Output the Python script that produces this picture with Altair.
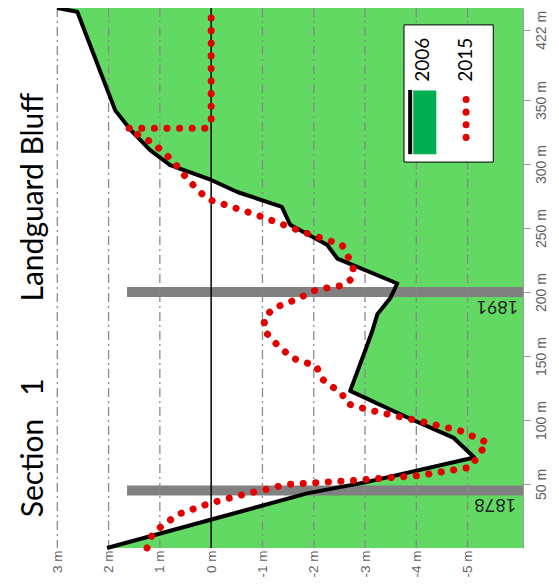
import altair as alt
import pandas as pd

# ---- data (distance along section in m, level in m) ----
dist_2006 = [0, 42.7, 51.3, 70.7, 86.3, 101.0, 122.8, 153.9, 169.4, 182.6, 195.1, 206.7,
             226.2, 237.0, 252.6, 266.6, 278.2, 287.6, 299.2, 310.9, 327.2, 342.0, 419.0, 422.0]
elev_2006 = [2.03, -1.87, -3.00, -5.13, -4.72, -3.88, -2.71, -3.00, -3.14, -3.24, -3.49, -3.63,
             -2.46, -2.26, -1.54, -1.38, -0.51, 0.0, 0.80, 1.19, 1.58, 1.87, 2.61, 3.00]

dist_2015 = [0, 10.1, 16.3, 26.4, 35.0, 41.2, 49.7, 52.8, 56.7, 63.0,
             82.4, 91.7, 98.7, 107.3, 112.7, 120.5, 132.1, 142.2, 148.4, 161.7,
             169.4, 179.5, 187.3, 194.3, 202.1, 205.2, 210.6, 219.9, 237.0, 246.4,
             260.4, 272.8, 287.6, 303.1, 316.3, 326.4, 328.0, 328.0, 331.9, 422.0]
elev_2015 = [1.25, 1.15, 0.99, 0.64, 0.02, -0.57, -1.48, -2.77, -4.07, -5.05,
             -5.38, -4.85, -4.11, -3.14, -2.65, -2.55, -2.16, -2.05, -1.58, -1.21,
             -1.05, -1.03, -1.21, -1.66, -2.07, -2.57, -2.75, -2.77, -2.55, -1.83,
             -0.88, 0.08, 0.45, 0.76, 1.13, 1.58, 1.62, 0.12, 0.0, 0.0]

survey_years = ["1878", "1891"]
survey_dist = [45, 200]
survey_label_dist = [34.2, 188.9]

elev_ticks = [3, 2, 1, 0, -1, -2, -3, -4, -5]
grid_vals = [3, 2, 1, -1, -2, -3, -4, -5]
dist_ticks = [50, 100, 150, 200, 250, 300, 350, 405]
dist_tick_labels = ["50 m", "100 m", "150 m", "200 m", "250 m", "300 m", "350 m", "422 m"]

series_names = ["2006", "2015"]
title_text = "Section\u00a0\u00a0\u00a01\u00a0\u00a0\u00a0\u00a0\u00a0\u00a0\u00a0\u00a0\u00a0\u00a0Landguard Bluff"

X_MIN, X_MAX = -6.08, 3.22
Y_MIN, Y_MAX = 0, 422

GREEN = "#62d962"
RED = "#e30000"
LABEL_FONT = "Liberation Sans Narrow, Liberation Sans, Arial, sans-serif"
TEXT_FONT = "Lato"

df06 = pd.DataFrame({"d": dist_2006, "e": elev_2006, "i": range(len(dist_2006))})
df15 = pd.DataFrame({"d": dist_2015, "e": elev_2015, "i": range(len(dist_2015))})
dfgrid = pd.DataFrame({"v": grid_vals})
dfzero = pd.DataFrame({"v": [0]})
dfbar = pd.DataFrame({"d": survey_dist, "year": survey_years,
                      "ld": survey_label_dist, "le": [-5.54, -5.58]})

xs = alt.Scale(domain=[X_MIN, X_MAX], reverse=True, nice=False, zero=False)
ys = alt.Scale(domain=[Y_MIN, Y_MAX], nice=False, zero=False)

dist_label_expr = "".join(
    f"datum.value == {v} ? '{l}' : " for v, l in zip(dist_ticks, dist_tick_labels)
) + "''"

x_axis = alt.Axis(values=elev_ticks, labelExpr="datum.value + ' m'", labelAngle=270,
                  ticks=False, domain=False, grid=False, title=None,
                  labelFont=LABEL_FONT, labelFontSize=13.5, labelColor="#5f5f5f",
                  labelPadding=2)
y_axis = alt.Axis(orient="right", values=dist_ticks, labelExpr=dist_label_expr,
                  labelAngle=270, tickSize=7, tickColor="#999999", domain=True,
                  domainColor="#999999", grid=False, title=None,
                  labelFont=LABEL_FONT, labelFontSize=14, labelColor="#5f5f5f",
                  labelPadding=4)


def X(field):
    return alt.X(field, scale=xs, axis=x_axis)


def Y(field):
    return alt.Y(field, scale=ys, axis=y_axis)


area = alt.Chart(df06).mark_area(orient="horizontal", color=GREEN).encode(
    y=Y("d:Q"), x=X("e:Q"), x2=alt.datum(X_MIN),
)

bars = alt.Chart(dfbar).mark_rule(color="#808080", strokeWidth=10).encode(
    y=Y("d:Q"), x=alt.datum(1.64), x2=alt.datum(X_MIN),
)

grid = alt.Chart(dfgrid).mark_rule(color="#8a8a8a", strokeWidth=1.3,
                                   strokeDash=[9, 4, 2, 4]).encode(x=X("v:Q"))

zero = alt.Chart(dfzero).mark_rule(color="black", strokeWidth=1.5).encode(x=X("v:Q"))

line06 = alt.Chart(df06).mark_line(color="black", strokeWidth=4, strokeJoin="round").encode(
    y=Y("d:Q"), x=X("e:Q"), order="i:Q",
)

line15 = alt.Chart(df15).mark_line(color=RED, strokeWidth=7, strokeCap="round",
                                   strokeDash=[0.1, 12.5]).encode(
    y=Y("d:Q"), x=X("e:Q"), order="i:Q",
)

year_text = alt.Chart(dfbar).mark_text(angle=180, fontSize=18, font=TEXT_FONT,
                                       color="#222222").encode(
    y=Y("ld:Q"), x=X("le:Q"), text="year:N",
)

# ---- legend (rotated like the rest of the chart) ----
leg_box = pd.DataFrame({"e1": [-3.76], "e2": [-5.50], "d1": [301.6], "d2": [408.8]})
leg_text = pd.DataFrame({"e": [-4.13, -4.97], "d": [381.6, 381.6], "t": series_names})
leg_green = pd.DataFrame({"e1": [-3.94], "e2": [-4.39], "d1": [307.8], "d2": [357.5]})
leg_black = pd.DataFrame({"e": [-3.88], "d1": [307.8], "d2": [358.0]})
leg_red = pd.DataFrame({"e": [-4.97, -4.97], "d": [350.5, 311.7], "i": [0, 1]})

lbox = alt.Chart(leg_box).mark_rect(fill="white", stroke="black", strokeWidth=1).encode(
    x=X("e1:Q"), x2="e2:Q", y=Y("d1:Q"), y2="d2:Q")
ltext = alt.Chart(leg_text).mark_text(angle=270, fontSize=19, font=TEXT_FONT,
                                      color="black").encode(
    x=X("e:Q"), y=Y("d:Q"), text="t:N")
lgreen = alt.Chart(leg_green).mark_rect(fill="#00b050").encode(
    x=X("e1:Q"), x2="e2:Q", y=Y("d1:Q"), y2="d2:Q")
lblack = alt.Chart(leg_black).mark_rule(color="black", strokeWidth=4).encode(
    x=X("e:Q"), y=Y("d1:Q"), y2="d2:Q")
lred = alt.Chart(leg_red).mark_line(color=RED, strokeWidth=7, strokeCap="round",
                                    strokeDash=[0.1, 12.5]).encode(
    x=X("e:Q"), y=Y("d:Q"), order="i:Q")

chart = alt.layer(
    area, bars, grid, zero, line06, line15, year_text,
    lbox, lgreen, lblack, lred, ltext,
).properties(
    width=477, height=540,
    title=alt.TitleParams(title_text, orient="left", anchor="middle",
                          font=TEXT_FONT, fontSize=30, fontWeight="normal", color="black",
                          offset=0, baseline="alphabetic", dx=-27, dy=27),
    autosize=alt.AutoSizeParams(type="none"),
    padding={"left": 38, "top": 0, "right": 28, "bottom": 30},
).configure_view(strokeWidth=0)

chart.save("out.html", embed_options={"renderer": "svg", "actions": False})
